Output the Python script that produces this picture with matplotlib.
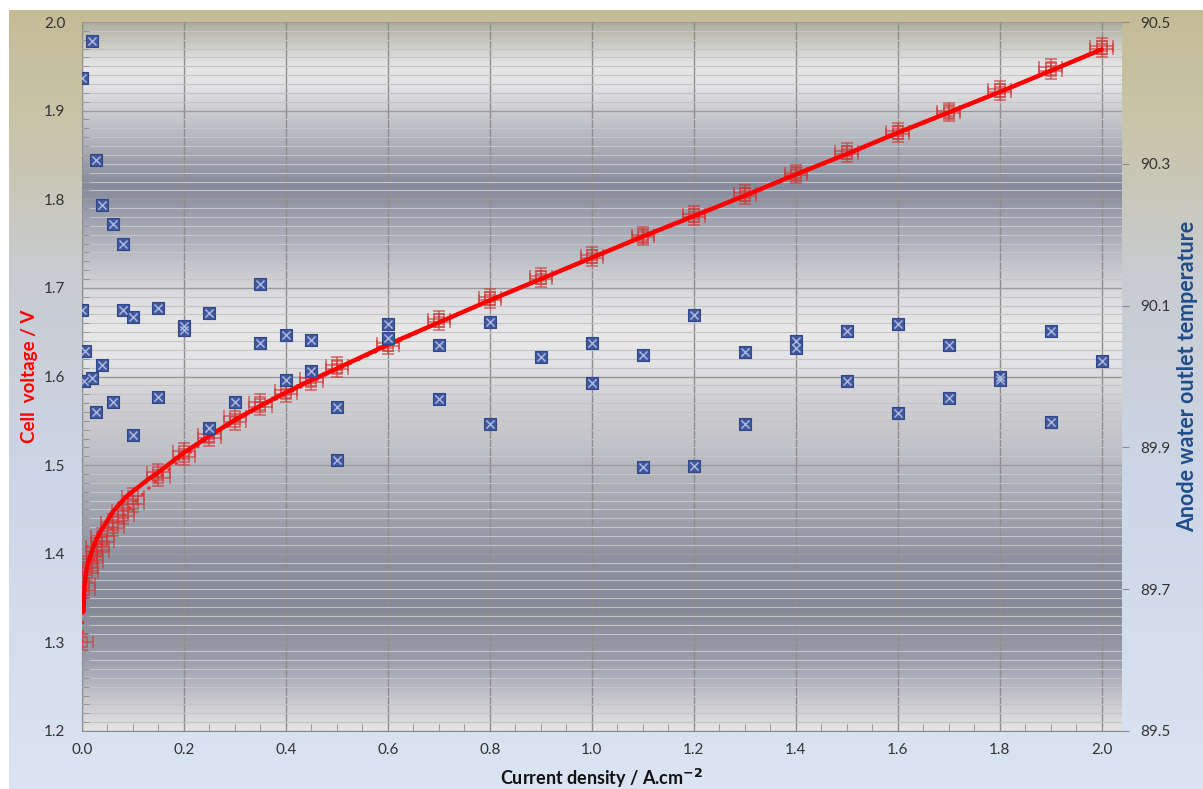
import numpy as np
import matplotlib
matplotlib.use("Agg")
import matplotlib.pyplot as plt
from matplotlib.colors import LinearSegmentedColormap
from matplotlib.ticker import MultipleLocator, FormatStrFormatter, FixedLocator

plt.rcParams['font.family'] = ['Lato', 'DejaVu Sans']

# cell voltage, two sweeps (up / down), A.cm-2 and V
j_up = [0.0, 0.003, 0.01, 0.02, 0.03, 0.04, 0.06, 0.08, 0.1, 0.15, 0.2, 0.25, 0.3, 0.35,
        0.4, 0.45, 0.5, 0.6, 0.7, 0.8, 0.9, 1.0, 1.1, 1.2, 1.3, 1.4, 1.5, 1.6, 1.7,
        1.8, 1.9, 2.0]
v_up = [1.300, 1.367, 1.385, 1.397, 1.409, 1.420, 1.436, 1.449, 1.465, 1.492, 1.516,
        1.535, 1.555, 1.571, 1.585, 1.598, 1.613, 1.638, 1.665, 1.690, 1.713, 1.737,
        1.760, 1.783, 1.807, 1.830, 1.854, 1.877, 1.900, 1.924, 1.949, 1.973]
j_down = [0.003, 0.01, 0.02, 0.03, 0.04, 0.06, 0.08, 0.1, 0.15, 0.2, 0.25, 0.3, 0.35,
          0.4, 0.45, 0.5, 0.6, 0.7, 0.8, 0.9, 1.0, 1.1, 1.2, 1.3, 1.4, 1.5, 1.6, 1.7,
          1.8, 1.9, 2.0]
v_down = [1.359, 1.378, 1.390, 1.402, 1.413, 1.429, 1.443, 1.456, 1.485, 1.509, 1.531,
          1.549, 1.566, 1.580, 1.594, 1.608, 1.634, 1.661, 1.686, 1.710, 1.734, 1.757,
          1.780, 1.804, 1.827, 1.851, 1.874, 1.897, 1.921, 1.945, 1.970]
j_err = 0.022
v_err = 0.009

# fitted polarisation curve
j_fit = [0.003, 0.005, 0.008, 0.012, 0.016, 0.022, 0.029, 0.036, 0.045, 0.06, 0.075,
         0.09, 0.11, 0.13, 0.15, 0.175, 0.2, 0.25, 0.3, 0.35, 0.4, 0.45, 0.5, 0.6, 0.7,
         0.8, 0.9, 1.0, 1.1, 1.2, 1.3, 1.4, 1.5, 1.6, 1.7, 1.8, 1.9, 2.0]
v_fit = [1.335, 1.365, 1.380, 1.390, 1.397, 1.407, 1.417, 1.425, 1.433, 1.447, 1.457,
         1.466, 1.475, 1.484, 1.492, 1.503, 1.514, 1.533, 1.551, 1.567, 1.582, 1.596,
         1.609, 1.636, 1.661, 1.686, 1.710, 1.734, 1.758, 1.781, 1.804, 1.828, 1.851,
         1.875, 1.898, 1.921, 1.945, 1.969]

# anode water outlet temperature
j_temp = [0.0, 0.0, 0.005, 0.003, 0.02, 0.02, 0.027, 0.028, 0.04, 0.04, 0.06, 0.06,
          0.08, 0.08, 0.1, 0.1, 0.15, 0.15, 0.2, 0.2, 0.25, 0.25, 0.3, 0.35, 0.35,
          0.4, 0.4, 0.45, 0.45, 0.5, 0.5, 0.6, 0.6, 0.7, 0.7, 0.8, 0.8, 0.9, 1.0, 1.0,
          1.1, 1.1, 1.2, 1.2, 1.3, 1.3, 1.4, 1.4, 1.5, 1.5, 1.6, 1.6, 1.7, 1.7, 1.8,
          1.8, 1.9, 1.9, 2.0]
t_temp = [90.421, 90.094, 90.036, 89.994, 90.473, 89.998, 90.305, 89.950, 90.242,
          90.016, 90.215, 89.964, 90.187, 90.094, 90.084, 89.918, 90.096, 89.971,
          90.071, 90.066, 90.090, 89.927, 89.964, 90.130, 90.047, 90.059, 89.995,
          90.051, 90.008, 89.957, 89.882, 90.074, 90.054, 90.044, 89.968, 90.077,
          89.933, 90.027, 90.047, 89.991, 90.030, 89.872, 90.087, 89.874, 90.035,
          89.933, 90.050, 90.040, 90.064, 89.994, 90.074, 89.949, 90.044, 89.970,
          90.000, 89.995, 90.064, 89.936, 90.022]
temp_ticks = [89.5, 89.7, 89.9, 90.1, 90.3, 90.5]

fig = plt.figure(figsize=(12.03, 7.89), dpi=100)
fig.patch.set_facecolor('white')

# chart area gradient (tan -> light blue)
bg = fig.add_axes([9 / 1203, 0, 1 - 9 / 1203, 779 / 789], zorder=-10)
outer = LinearSegmentedColormap.from_list('outer', [
    (0.0, '#c5bc96'), (0.15, '#c9c5aa'), (0.35, '#c8ccd2'),
    (0.6, '#ccd6e6'), (1.0, '#dbe4f2')])
bg.imshow(np.linspace(0, 1, 256).reshape(-1, 1), aspect='auto', cmap=outer,
          extent=[0, 1, 0, 1])
bg.axis('off')

ax = fig.add_axes([82 / 1203, 58 / 789, 1040 / 1203, 709 / 789])
ax.set_xlim(0, 2.04)
ax.set_ylim(1.2, 2.0)

# plot area banded grey gradient
stops = [(22, '#aeae9f'), (40, '#c8c8c0'), (65, '#e6e6e6'), (85, '#e2e2e4'),
         (120, '#c4c5ca'), (185, '#868a9a'), (230, '#a8aab6'), (270, '#c8c9ce'),
         (300, '#dedee0'), (330, '#e8e8e8'), (360, '#e4e4e6'), (400, '#d0d0d4'),
         (450, '#c0c1c6'), (500, '#a6a8b2'), (560, '#8e92a0'), (610, '#868a98'),
         (660, '#9a9caa'), (700, '#c6c6cc'), (731, '#e4e4e4')]
inner = LinearSegmentedColormap.from_list(
    'inner', [((p - 22) / 709, c) for p, c in stops])
ax.imshow(np.linspace(0, 1, 512).reshape(-1, 1), aspect='auto', cmap=inner,
          extent=[0, 2.04, 1.2, 2.0], zorder=0)

ax.xaxis.set_major_locator(MultipleLocator(0.2))
ax.xaxis.set_minor_locator(MultipleLocator(0.05))
ax.yaxis.set_major_locator(MultipleLocator(0.1))
ax.yaxis.set_minor_locator(MultipleLocator(0.01))
ax.xaxis.set_major_formatter(FormatStrFormatter('%.1f'))
ax.yaxis.set_major_formatter(FormatStrFormatter('%.1f'))
ax.grid(which='minor', axis='y', color='#c4c4c8', lw=0.8, zorder=1)
ax.grid(which='major', axis='y', color='#9a9a9a', lw=1.0, zorder=1)
ax.grid(which='major', axis='x', color='#8e8e8e', lw=1.0, zorder=1)
ax.set_axisbelow(False)
ax.tick_params(which='both', direction='in', length=5, color='#8c8c8c',
               labelsize=11, labelcolor='#333333')
ax.tick_params(axis='x', which='major', length=0, pad=9)
ax.tick_params(axis='y', which='major', length=0, pad=12)
for s in ['top', 'right']:
    ax.spines[s].set_visible(False)
for s in ['left', 'bottom']:
    ax.spines[s].set_color('#8c8c8c')

red_edge = '#cc3b3b'
ax.errorbar(j_up, v_up, xerr=j_err, yerr=v_err, fmt='s', ms=7, mfc='none',
            mec=red_edge, mew=1.1, ecolor=red_edge, elinewidth=1.1, capsize=4,
            capthick=1.1, alpha=0.75, zorder=3)
ax.errorbar(j_down, v_down, xerr=j_err, yerr=v_err, fmt='s', ms=7, mfc='none',
            mec=red_edge, mew=1.1, ecolor=red_edge, elinewidth=1.1, capsize=4,
            capthick=1.1, alpha=0.75, zorder=3)
ax.plot(np.concatenate([[j_up[0]], j_down]), np.concatenate([[v_up[0]], v_down]),
        ls=(0, (1, 2)), color='#e83030', lw=2.2, zorder=4)
ax.plot(j_fit, v_fit, color='#ff0000', lw=3.2, solid_capstyle='round', zorder=5)

ax.set_xlabel('Current density / A.cm$^{\\mathbf{-2}}$', fontsize=13, fontweight='bold',
              color='#111111', labelpad=7)
ax.set_ylabel('Cell  voltage / V', fontsize=13.5, fontweight='bold', color='#ff0000')
ax.yaxis.set_label_coords((38 - 82) / 1040, 0.5)

ax2 = ax.twinx()
ax2.set_ylim(89.5, 90.5)
ax2.yaxis.set_major_locator(FixedLocator(temp_ticks))
ax2.yaxis.set_major_formatter(FormatStrFormatter('%.1f'))
ax2.tick_params(axis='y', direction='out', length=5, color='#8c8c8c', labelsize=11,
                labelcolor='#333333', pad=8)
for s in ax2.spines.values():
    s.set_visible(False)
ax2.patch.set_visible(False)
ax2.scatter(j_temp, t_temp, marker='s', s=70, color='#42589e', edgecolors='#33488a',
            linewidths=0.8, zorder=6)
ax2.scatter(j_temp, t_temp, marker='x', s=34, color='#a9b6dc', linewidths=1.1, zorder=7)
ax2.set_ylabel('Anode water outlet temperature', fontsize=15.5, fontweight='bold',
               color='#1f4e8c')
ax2.yaxis.set_label_coords((1177 - 82) / 1040, 0.5)

fig.savefig('out.png', dpi=100)
